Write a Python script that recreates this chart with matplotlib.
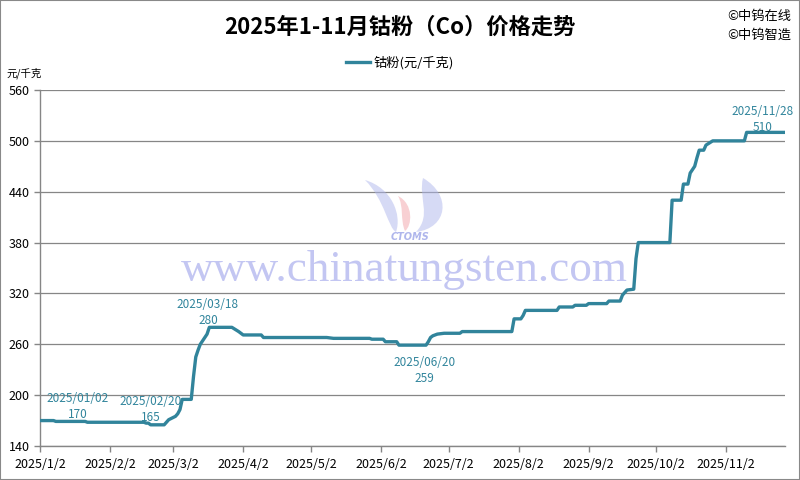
import matplotlib

matplotlib.use("Agg")
import matplotlib.pyplot as plt
import numpy as np
from matplotlib.patches import PathPatch, Rectangle
from matplotlib.path import Path

plt.rcParams["font.family"] = ["Noto Sans CJK SC", "DejaVu Sans"]

# cobalt powder price, yuan/kg
DATES = [
    "2025-01-02", "2025-01-08", "2025-01-09", "2025-01-22", "2025-01-23",
    "2025-02-17", "2025-02-18", "2025-02-19", "2025-02-20", "2025-02-26",
    "2025-02-27", "2025-02-28", "2025-03-03", "2025-03-04", "2025-03-05",
    "2025-03-06", "2025-03-10", "2025-03-11", "2025-03-12", "2025-03-13",
    "2025-03-14", "2025-03-17", "2025-03-18", "2025-03-28", "2025-03-31",
    "2025-04-01", "2025-04-02", "2025-04-10", "2025-04-11", "2025-05-09",
    "2025-05-12", "2025-05-28", "2025-05-29", "2025-06-03", "2025-06-04",
    "2025-06-09", "2025-06-10", "2025-06-22", "2025-06-23", "2025-06-24",
    "2025-06-25", "2025-06-27", "2025-06-30", "2025-07-07", "2025-07-08",
    "2025-07-30", "2025-07-31", "2025-08-03", "2025-08-04", "2025-08-05",
    "2025-08-19", "2025-08-20", "2025-08-26", "2025-08-27", "2025-09-01",
    "2025-09-02", "2025-09-10", "2025-09-11", "2025-09-16", "2025-09-17",
    "2025-09-18", "2025-09-19", "2025-09-22", "2025-09-23", "2025-09-24",
    "2025-10-08", "2025-10-09", "2025-10-13", "2025-10-14", "2025-10-16",
    "2025-10-17", "2025-10-19", "2025-10-20", "2025-10-21", "2025-10-23",
    "2025-10-24", "2025-10-27", "2025-11-10", "2025-11-11", "2025-11-28",
]
PRICES = [
    170, 170, 169, 169, 168,
    168, 167, 167, 165, 165,
    168, 171, 175, 178, 183,
    195, 195, 222, 245, 253,
    260, 272, 280, 280, 275,
    273, 271, 271, 268, 268,
    267, 267, 266, 266, 263,
    263, 259, 259, 263, 268,
    270, 272, 273, 273, 275,
    275, 290, 290, 294, 300,
    300, 304, 304, 306, 306,
    308, 308, 311, 311, 318,
    321, 324, 325, 361, 380,
    380, 430, 430, 449, 449,
    462, 470, 480, 489, 489,
    495, 500, 500, 510, 510,
]

LABEL_DATES = ["2025-01-02", "2025-02-20", "2025-03-18", "2025-06-20", "2025-11-28"]
LABEL_PRICES = [170, 165, 280, 259, 510]
LABEL_OFFSETS = [(27, 10), (0, 11), (-1, 11), (2, -18), (-16, 9)]  # points

TICK_DATES = [f"2025-{m:02d}-02" for m in range(1, 12)]
TICK_LABELS = [f"2025/{m}/2" for m in range(1, 12)]
Y_TICKS = list(range(140, 561, 60))

LINE = "#31849B"
GRID = "#868686"


def px(x, y):
    """pixel (from top-left) -> figure fraction"""
    return x / 800, 1 - y / 480


def blob(fig, pts, color):
    # start point + two cubic segments, then close
    codes = [Path.MOVETO] + [Path.CURVE4] * 6 + [Path.CLOSEPOLY]
    verts = [px(*p) for p in pts] + [px(*pts[0])]
    fig.patches.append(PathPatch(Path(verts, codes), transform=fig.transFigure,
                                 fc=color, ec="none", alpha=0.5, zorder=0))


def main():
    fig = plt.figure(figsize=(8, 4.8), dpi=100)
    fig.patches.append(Rectangle((0, 0), 1, 1, transform=fig.transFigure, fill=False,
                                 ec="#898989", lw=1.5))
    ax = fig.add_axes([40 / 800, 34 / 480, 745 / 800, 356 / 480])
    ax.patch.set_alpha(0)

    # watermark
    fig.text(*px(404, 270), "www.chinatungsten.com", family="Liberation Serif",
             fontsize=32.5, color="#C3C6F2", ha="center", va="center", zorder=0)
    blob(fig, [(365, 180), (392, 188), (402, 215), (396, 232),
               (388, 228), (385, 200), (365, 180)], "#AFB6EC")
    blob(fig, [(423, 178), (452, 195), (448, 228), (416, 232),
               (432, 215), (418, 198), (423, 178)], "#AFB6EC")
    blob(fig, [(398, 196), (414, 204), (412, 226), (405, 231),
               (400, 220), (404, 206), (398, 196)], "#F2A3A8")
    fig.text(*px(410, 237), "CTOMS", fontsize=7, fontweight="bold", style="italic",
             color="#AFB6EC", ha="center", va="center", family="DejaVu Sans")

    dates = np.array(DATES, dtype="datetime64[D]")
    ax.plot(dates, PRICES, color=LINE, lw=2.4, solid_joinstyle="round", zorder=3,
            label="钴粉(元/千克)")

    for d, p, off in zip(LABEL_DATES, LABEL_PRICES, LABEL_OFFSETS):
        ax.annotate(f"{d.replace('-', '/')}\n{p}", xy=(np.datetime64(d), p),
                    xytext=off, textcoords="offset points", ha="center", va="center",
                    fontsize=8.5, color="#31859C", linespacing=1.3, zorder=4)

    ax.set_xlim(np.datetime64("2025-01-02"), np.datetime64("2025-11-28"))
    ax.set_ylim(140, 560)
    ax.set_yticks(Y_TICKS)
    ax.set_xticks(np.array(TICK_DATES, dtype="datetime64[D]"))
    ax.set_xticklabels(TICK_LABELS)
    ax.tick_params(axis="both", labelsize=9, color=GRID, length=4, width=1)
    ax.tick_params(axis="x", pad=5)
    ax.grid(axis="y", color=GRID, lw=0.9)
    ax.set_axisbelow(True)
    for s in ("top", "right"):
        ax.spines[s].set_visible(False)
    for s in ("left", "bottom"):
        ax.spines[s].set_color(GRID)
        ax.spines[s].set_linewidth(1)

    fig.text(*px(400, 27), "2025年1-11月钴粉（Co）价格走势", fontsize=16,
             fontweight="bold", ha="center", va="center")
    fig.text(*px(727, 16), "©中钨在线", fontsize=9.5, ha="left", va="center")
    fig.text(*px(727, 35), "©中钨智造", fontsize=9.5, ha="left", va="center")
    fig.text(*px(6, 73), "元/千克", fontsize=7.5, ha="left", va="center")
    fig.legend(loc="center", bbox_to_anchor=px(400, 63), frameon=False, fontsize=9.5,
               handlelength=1.8, handletextpad=0.3)

    fig.savefig("out.png", dpi=100)


if __name__ == "__main__":
    main()
